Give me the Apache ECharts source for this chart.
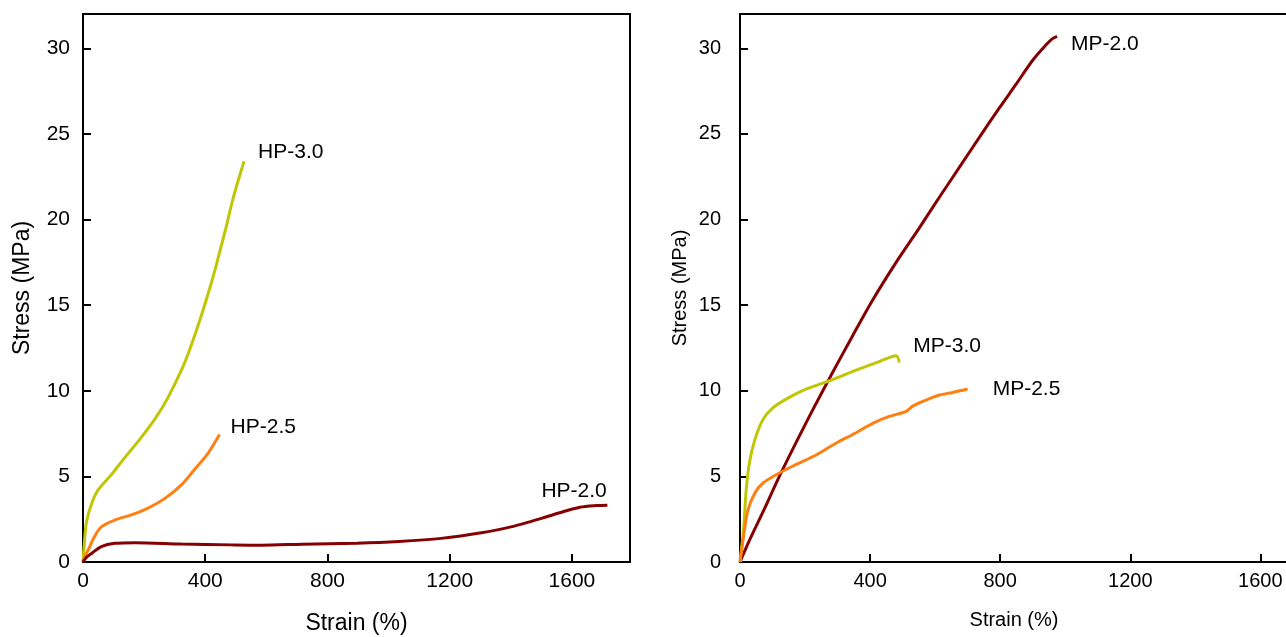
<!DOCTYPE html>
<html lang="en">
<head>
    <meta charset="UTF-8">
    <title>Stress-Strain</title>
    <script src="https://cdn.jsdelivr.net/npm/echarts@6/dist/echarts.min.js"></script>
    <style>
        html, body {
            margin: 0;
            padding: 0;
            background: #ffffff;
        }
        #main {
            width: 1286px;
            height: 637px;
        }
    </style>
</head>
<body>
<div id="main"></div>
<script>
    // [strain %, stress MPa]
    var hp30 = [[0,0],[4,1.0],[11,2.3],[28,3.4],[49,4.2],[93,5.1],[130,5.95],[185,7.15],[239,8.45],[278,9.6],
        [322,11.2],[349,12.4],[382,14.1],[415,16.0],[437,17.4],[453,18.5],[469,19.6],[485,20.8],[500,21.8],
        [515,22.7],[527,23.4]];
    var hp25 = [[0,0],[7,0.35],[17,0.7],[38,1.5],[60,2.05],[104,2.45],[158,2.75],[213,3.15],[267,3.7],
        [322,4.5],[365,5.4],[409,6.35],[442,7.3],[447,7.45]];
    var hp20 = [[0,0],[10,0.25],[28,0.5],[60,0.9],[104,1.09],[170,1.13],[322,1.05],[485,1.0],[583,0.98],
        [717,1.04],[896,1.1],[1034,1.2],[1172,1.38],[1309,1.72],[1400,2.05],[1447,2.27],[1500,2.55],
        [1557,2.86],[1626,3.2],[1680,3.3],[1716,3.32]];

    var mp20 = [[0,0],[30,1.3],[75,3.1],[121,5.0],[173,7.0],[224,8.9],[280,10.9],[346,13.2],[408,15.3],
        [480,17.5],[551,19.5],[613,21.3],[680,23.2],[736,24.8],[797,26.5],[849,27.9],[900,29.3],
        [941,30.2],[960,30.55],[975,30.7]];
    var mp30 = [[0,0],[11,1.9],[19,4.2],[29,5.8],[45,7.1],[70,8.3],[101,9.0],[150,9.6],[203,10.1],
        [285,10.65],[357,11.2],[428,11.7],[480,12.05],[490,11.65]];
    var mp25 = [[0,0],[11,1.5],[24,3.0],[45,4.0],[70,4.6],[121,5.2],[173,5.7],[234,6.25],[296,6.95],
        [357,7.55],[408,8.1],[459,8.5],[511,8.8],[531,9.1],[572,9.45],[613,9.75],[654,9.9],[700,10.1]];

    var xTicks = [0, 400, 800, 1200, 1600];
    var yTicks = [0, 5, 10, 15, 20, 25, 30];

    var green = '#bfc705';
    var orange = '#ff8012';
    var darkRed = '#850000';
    var font = '"Liberation Sans", Arial, sans-serif';

    function xAxisOf(grid, max, size, nameSize, gap) {
        return {
            gridIndex: grid, type: 'value', min: 0, max: max, interval: 400,
            name: 'Strain (%)', nameLocation: 'middle', nameGap: gap,
            nameTextStyle: {fontFamily: font, fontSize: nameSize, color: '#000'},
            axisLine: {lineStyle: {color: '#000', width: 2}},
            axisTick: {inside: true, length: 8, lineStyle: {color: '#000', width: 2}},
            axisLabel: {fontFamily: font, fontSize: size, color: '#000', margin: 9, showMaxLabel: false,
                formatter: function (v) { return xTicks.indexOf(v) >= 0 ? v : ''; }},
            splitLine: {show: false}
        };
    }
    function yAxisOf(grid, size, nameSize, gap, margin) {
        return {
            gridIndex: grid, type: 'value', min: 0, max: 32, interval: 5,
            name: 'Stress (MPa)', nameLocation: 'middle', nameGap: gap,
            nameTextStyle: {fontFamily: font, fontSize: nameSize, color: '#000'},
            axisLine: {lineStyle: {color: '#000', width: 2}},
            axisTick: {inside: true, length: 8, lineStyle: {color: '#000', width: 2}},
            axisLabel: {fontFamily: font, fontSize: size, color: '#000', margin: margin, showMaxLabel: false,
                formatter: function (v) { return yTicks.indexOf(v) >= 0 ? v : ''; }},
            splitLine: {show: false}
        };
    }
    function curve(name, data, color, grid, offset) {
        return {
            name: name, type: 'line', xAxisIndex: grid, yAxisIndex: grid,
            data: data, showSymbol: false, symbol: 'none', smooth: 0.3,
            lineStyle: {color: color, width: 3},
            endLabel: {show: true, formatter: name, offset: offset,
                fontFamily: font, fontSize: 21, color: '#000'}
        };
    }

    var myChart = echarts.init(document.getElementById('main'));
    var option = {
        backgroundColor: '#ffffff',
        animation: false,
        grid: [
            {left: 83, top: 14, width: 547, height: 548, show: true, borderColor: '#000', borderWidth: 2,
                outerBoundsMode: 'none'},
            // right panel runs just past the picture edge
            {left: 740, top: 14, width: 548, height: 548, show: true, borderColor: '#000', borderWidth: 2,
                outerBoundsMode: 'none'}
        ],
        xAxis: [xAxisOf(0, 1790, 21, 23, 50), xAxisOf(1, 1685, 20, 20, 48)],
        yAxis: [yAxisOf(0, 21, 23, 49, 13), yAxisOf(1, 20, 20, 50, 19)],
        series: [
            curve('HP-3.0', hp30, green, 0, [6, -9]),
            curve('HP-2.5', hp25, orange, 0, [3, -7]),
            curve('HP-2.0', hp20, darkRed, 0, [-74, -14]),
            curve('MP-2.0', mp20, darkRed, 1, [6, 8]),
            curve('MP-3.0', mp30, green, 1, [6, -16]),
            curve('MP-2.5', mp25, orange, 1, [17, 0])
        ]
    };
    myChart.setOption(option);
</script>
</body>
</html>
